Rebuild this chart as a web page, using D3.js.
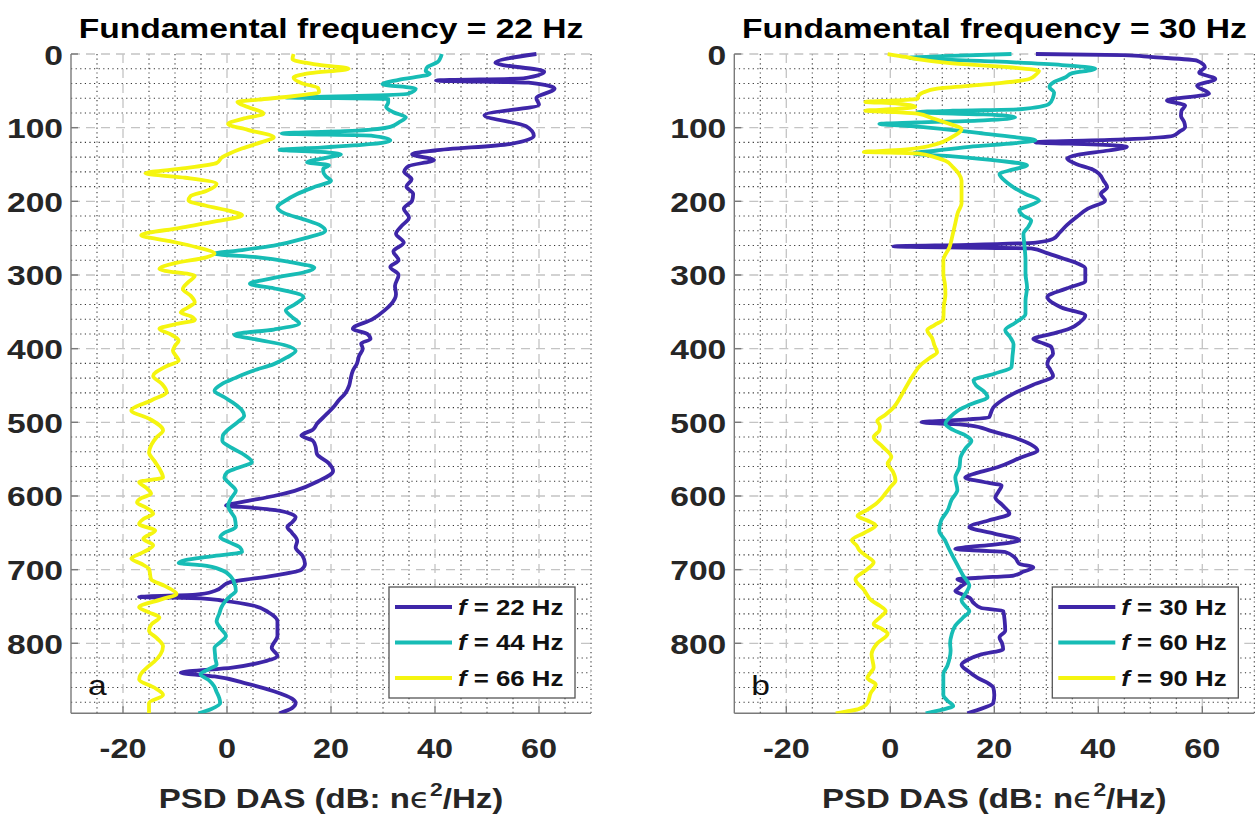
<!DOCTYPE html>
<html>
<head>
<meta charset="utf-8">
<script src="https://cdn.jsdelivr.net/npm/d3@7"></script>
<style>
  body { margin: 0; background: #fff; }
  text { font-family: "Liberation Sans", Arial, sans-serif; }
</style>
</head>
<body>
<svg id="chart" width="1256" height="816"></svg>
<script>
// depth (m) vs PSD (dB), one [depth, dB] pair per sample

// panel a — fundamental 22 Hz
const psd22 = [[0,59.5],[12,51.6],[24,61],[33,57],[36,40.2],[39,58],[47,63],[60,59.5],[69,60],[83,49.5],[98,57.5],[111,59],[122,54.6],[131,40],[136,35.6],[144,39.8],[152,35],[160,34.1],[170,35.5],[180,34.5],[190,35.8],[199,35.6],[210,34],[222,35],[234,33.5],[244,32.5],[256,34],[268,32],[280,33],[289,31.4],[300,33],[315,32.3],[326,32.5],[340,31.5],[348,30.3],[360,28],[373,24.2],[380,27],[387,27.6],[393,25.8],[400,26.1],[410,25.4],[420,25],[430,24.2],[440,23.8],[450,23.5],[461,22.7],[470,21.5],[480,20.4],[490,19],[502,17.3],[510,16.5],[518,14.3],[525,16.5],[532,17],[543,17.3],[555,19.5],[566,20.4],[580,17.5],[593,13],[600,9],[608,3],[613,-0.2],[616,5],[620,10],[629,13.2],[636,12.5],[642,11.6],[650,12.5],[661,13.5],[670,13.2],[681,14.5],[692,15],[700,14.3],[708,9],[717,0.6],[729,-2.4],[734,-6],[737,-16.9],[739,-5],[742,-0.9],[749,5.2],[758,8],[770,9.7],[790,9.7],[806,8.6],[817,9.7],[825,7],[833,1],[840,-8.9],[845,-2.4],[855,4],[865,9],[875,12.5],[881,13.2],[888,12.5],[895,10.1]];
const psd44 = [[0,41.3],[6,41],[11,40.5],[18,38.5],[23,38.2],[27,39],[35,33],[41,29.9],[47,36.3],[54,34.8],[57,25],[59,11.3],[61,31],[66,31],[72,30.6],[79,32],[86,34.4],[93,33],[99,31.4],[104,25],[108,10.5],[111,28],[117,31.4],[122,28],[127,18],[130,10.1],[133,18],[136,21.9],[141,19],[147,15.4],[151,19.6],[156,18.5],[160,18.5],[166,19],[172,20],[180,17],[190,13.5],[200,11],[208,9.7],[216,11],[225,15],[233,18],[240,18.9],[250,15],[260,9],[267,2],[271,-2.4],[276,6],[283,12.5],[290,16.8],[296,15],[304,9],[312,4.4],[318,9],[330,14.7],[340,13],[348,11.3],[357,12.5],[366,13.9],[374,9],[381,1.4],[388,6],[395,11],[403,13.2],[412,11.5],[421,9],[430,5],[440,1.5],[448,-1],[457,-2.4],[466,-0.5],[475,1.5],[483,2.8],[491,3.3],[500,2],[510,0.2],[518,-0.8],[525,-0.9],[535,1],[545,3.5],[554,4.8],[562,2],[568,0],[575,-0.5],[583,0.5],[593,1.7],[603,0.8],[613,0.2],[620,0.6],[630,1.5],[642,1.7],[650,-0.5],[656,-1.3],[663,0.5],[670,2.5],[676,2.9],[682,-3],[687,-8],[691,-9.3],[694,-5],[701,-0.9],[710,0.8],[720,1.5],[729,1.7],[735,0.8],[742,-0.2],[750,-1],[760,-1.5],[770,-2],[780,-1.2],[790,-0.2],[798,-1.2],[806,-2.4],[815,-2.3],[822,-2.2],[829,-2],[835,-3.5],[842,-5.1],[850,-3.5],[858,-2.5],[866,-2],[874,-1.5],[881,-1.3],[889,-3],[895,-5.5]];
const psd66 = [[0,12.8],[7,12.6],[14,17],[20,23.4],[26,16],[32,12.8],[40,14.5],[46,17.5],[52,17.7],[57,13],[62,6],[65,2],[72,4],[81,7],[88,3],[95,0.2],[103,4],[113,9],[120,6.5],[128,3],[135,0.5],[140,-0.9],[148,-2],[155,-8],[162,-15.7],[168,-8],[176,-2],[186,-4],[193,-7],[199,-7.4],[206,-4],[213,0.5],[219,2.9],[227,-2],[236,-9],[246,-16.5],[254,-11],[262,-6],[271,-2.4],[276,-4],[284,-10],[292,-13],[301,-6.2],[310,-7.5],[319,-8.5],[328,-7],[337,-6.2],[344,-7.5],[351,-8.9],[356,-7],[361,-6.2],[367,-10],[373,-13],[380,-11],[389,-9.3],[396,-10],[403,-10.4],[410,-9.8],[416,-9.3],[425,-12],[437,-14.2],[448,-12.5],[459,-11.6],[470,-14.5],[484,-18.4],[495,-15],[511,-12.3],[520,-13.5],[530,-14.5],[541,-15],[552,-14],[563,-13],[575,-12.3],[581,-16.9],[589,-15.5],[597,-14.6],[603,-16.5],[609,-17.3],[616,-15.5],[624,-14.2],[631,-16],[638,-16.9],[647,-13.8],[658,-16.1],[667,-14.2],[676,-16],[685,-18.4],[692,-16.5],[699,-15],[713,-14.6],[722,-12],[733,-9.7],[740,-12.5],[751,-16.9],[758,-15],[765,-13],[774,-14.5],[783,-15],[793,-13.5],[804,-12.3],[815,-12.8],[825,-14],[833,-15.4],[841,-16.5],[849,-16.9],[860,-14],[870,-12.3],[881,-15],[895,-15]];

// panel b — fundamental 30 Hz
const psd30 = [[0,28],[1.5,44.8],[4,50],[9,59],[18,60.5],[25,59.4],[34,62.5],[43,59],[54,61.3],[63,53.2],[70,56.7],[77,56],[84,55.9],[92,56.5],[99,56.7],[106,55.5],[111,54.4],[116,45],[120,27.9],[123,40],[126,45.5],[131,42],[137,36],[142,34],[150,36],[157,39],[163,40.2],[172,41],[181,41.7],[190,40.5],[199,41.3],[210,38],[221,35.9],[232,34],[243,32.5],[251,31.3],[256,28],[259,15],[261,0.6],[263,18],[264,27.1],[270,30],[277,33],[284,35.9],[291,37.5],[298,37.5],[308,37.5],[318,34],[330,30.2],[344,32.9],[355,37.5],[364,36.5],[373,34.4],[380,31],[387,27.5],[393,29.5],[398,31],[407,31.3],[414,30.5],[421,30.2],[429,30.8],[437,31.3],[449,27.5],[461,23.7],[470,21.5],[480,19.8],[488,19.3],[493,19],[496,15],[500,6],[502,11],[504,15.2],[512,19.5],[520,23.5],[530,27],[538,28.3],[548,25],[561,20.6],[569,16.5],[575,14.4],[581,18],[586,21.4],[594,20.8],[602,20.2],[612,21.5],[624,22.9],[633,19],[642,15.2],[651,20],[660,24.8],[666,20],[670,14],[672,12.5],[674,17],[676,22.1],[684,24],[692,24.8],[697,27.5],[703,25.5],[708,23.7],[711,17],[713,12.9],[718,14.5],[722,13.7],[726,13],[729,12.5],[734,14],[738,15.2],[745,16],[752,17.5],[756,21.7],[770,22],[783,22.1],[792,21],[800,21.5],[808,21.7],[815,17.5],[822,15],[829,13.7],[838,15],[847,16.8],[855,19],[860,19.8],[870,20],[881,19.8],[890,17],[895,14.8]];
const psd60 = [[0,23.3],[3,10],[5,3.7],[10,20],[15,33],[20,39.4],[26,35],[32,33.6],[38,31.5],[45,30.6],[52,31.5],[59,31.3],[68,30.5],[75,25],[77,12],[79,5.2],[82,18],[86,24],[90,18],[93,5],[95,-2.1],[98,4],[102,10.2],[108,18],[113,24],[117,27.9],[121,24],[126,15.2],[131,9],[135,4.5],[139,12],[145,21],[151,26.3],[157,23.5],[163,21],[172,22],[181,23.7],[190,26],[199,28.6],[205,27],[212,24.8],[219,25.5],[226,27.1],[235,26.5],[244,25.6],[260,25.8],[280,26],[298,26],[317,26.3],[335,26],[353,26],[365,24],[375,22.1],[384,23],[394,23.7],[410,23.5],[425,23.3],[434,20],[443,16],[450,16.5],[458,18],[466,18.7],[474,16],[484,13],[493,11.5],[502,10.6],[510,12],[518,14.5],[525,15.6],[535,14.5],[548,13.5],[561,13.3],[575,12.5],[592,12.9],[605,11.8],[620,11],[633,9.8],[647,9.4],[660,10.5],[672,11.3],[683,12.1],[695,13],[708,14],[722,15.2],[732,14.5],[742,13.7],[750,14.5],[756,15.2],[765,14],[776,12.5],[788,11.8],[800,11.5],[810,11.6],[820,11.4],[830,11],[842,10.2],[856,10.2],[870,10.2],[878,11],[885,12.1],[890,10],[895,6.8]];
const psd90 = [[0,-0.5],[4,3],[7,5.2],[12,11],[18,22.9],[23,28.6],[28,28],[34,26.7],[41,19],[47,9],[52,6.4],[56,5.5],[61,5.2],[63,1],[65,-4.8],[67,1],[72,4.8],[75,0],[77,-4.8],[79,1],[81,5.2],[87,8],[93,10.6],[102,13.7],[108,13],[113,11.8],[122,9],[129,3.7],[131,0],[133,-5.1],[134,0],[135,5.2],[140,8.5],[145,10.6],[154,12.1],[163,13.2],[172,13.7],[185,13.7],[203,13.7],[215,13],[230,12.5],[245,12],[262,11.4],[280,10.2],[298,10.2],[312,10.5],[326,10.6],[342,10.3],[360,10.2],[368,8.5],[375,7.1],[385,8],[396,8.5],[405,9],[413,7.5],[421,6],[435,4.5],[450,3.2],[465,2],[480,0.6],[490,-1],[498,-2.5],[505,-2],[511,-2.1],[520,-3.2],[533,-1.5],[547,0.2],[556,-0.5],[567,0.5],[579,1],[588,0],[597,-1],[604,-1.8],[611,-2.8],[619,-4.5],[627,-6.3],[633,-4.5],[640,-2.8],[650,-5],[660,-7.4],[667,-6.5],[674,-5.9],[682,-4.5],[690,-3.2],[700,-4.5],[713,-6.7],[728,-5],[742,-3.6],[749,-2],[756,-0.9],[765,-2],[774,-3.2],[781,-1.5],[787,-0.5],[800,-2.5],[815,-3.6],[833,-3.2],[840,-3.8],[847,-4.4],[856,-2.8],[868,-3.8],[881,-4.4],[889,-6],[895,-10.5]];

const freqsA = ["22", "44", "66"];
const freqsB = ["30", "60", "90"];
const lineColors = ["#3e26a8", "#17bcb5", "#f5f50f"];
const xTicks = [-20, 0, 20, 40, 60];
const yTicks = [0, 100, 200, 300, 400, 500, 600, 700, 800];

const SX = 1.2;          // source figure is stretched horizontally
const PLOT_W = 520;
const TOP = 54, BOTTOM = 713.3;
const LINE_W = 3.8;

const panels = [
  { left: 71,    fund: "22", letter: "a", freqs: freqsA, data: [psd22, psd44, psd66] },
  { left: 734.3, fund: "30", letter: "b", freqs: freqsB, data: [psd30, psd60, psd90] }
];

const svg = d3.select("#chart");

function addText(g, x, y, size, weight, anchor) {
  return g.append("text")
    .attr("transform", `translate(${x},${y}) scale(${SX},1)`)
    .attr("font-size", size + "px")
    .attr("font-weight", weight)
    .attr("text-anchor", anchor)
    .attr("fill", "#111");
}

panels.forEach((p, pi) => {
  const g = svg.append("g");
  const x = d3.scaleLinear().domain([-30, 70]).range([p.left, p.left + PLOT_W]);
  const y = d3.scaleLinear().domain([0, 895]).range([TOP, BOTTOM]);

  // ── minor grid (dotted) ──
  d3.range(-25, 71, 5).filter(v => v % 20 !== 0).forEach(v => {
    g.append("line")
      .attr("x1", x(v)).attr("x2", x(v)).attr("y1", TOP).attr("y2", BOTTOM)
      .attr("stroke", "#333").attr("stroke-width", 1.1)
      .attr("stroke-dasharray", "1.2,3.4");
  });
  d3.range(20, 895, 20).filter(v => v % 100 !== 0).forEach(v => {
    g.append("line")
      .attr("x1", x(-30)).attr("x2", x(70)).attr("y1", y(v)).attr("y2", y(v))
      .attr("stroke", "#333").attr("stroke-width", 1.1)
      .attr("stroke-dasharray", "1.2,3.4");
  });

  // ── major grid (dashed) ──
  xTicks.forEach(v => {
    g.append("line")
      .attr("x1", x(v)).attr("x2", x(v)).attr("y1", TOP).attr("y2", BOTTOM)
      .attr("stroke", "#c4c4c4").attr("stroke-width", 1.3)
      .attr("stroke-dasharray", "9,6");
  });
  yTicks.forEach(v => {
    g.append("line")
      .attr("x1", x(-30)).attr("x2", x(70)).attr("y1", y(v)).attr("y2", y(v))
      .attr("stroke", "#c4c4c4").attr("stroke-width", 1.3)
      .attr("stroke-dasharray", "9,6");
  });

  // ── axes ──
  g.append("line").attr("x1", x(-30)).attr("x2", x(-30)).attr("y1", TOP).attr("y2", BOTTOM)
    .attr("stroke", "#7a7a7a").attr("stroke-width", 1.4);
  g.append("line").attr("x1", x(-30)).attr("x2", x(70)).attr("y1", BOTTOM).attr("y2", BOTTOM)
    .attr("stroke", "#7a7a7a").attr("stroke-width", 1.4);
  yTicks.forEach(v => {
    g.append("line").attr("x1", x(-30)).attr("x2", x(-30) + 7).attr("y1", y(v)).attr("y2", y(v))
      .attr("stroke", "#7a7a7a").attr("stroke-width", 1.4);
    addText(g, x(-30) - 8, y(v) + 10.5, 28, "bold", "end").attr("fill", "#262626").text(v);
  });
  xTicks.forEach(v => {
    g.append("line").attr("x1", x(v)).attr("x2", x(v)).attr("y1", BOTTOM).attr("y2", BOTTOM - 7)
      .attr("stroke", "#7a7a7a").attr("stroke-width", 1.4);
    addText(g, x(v), 758, 27, "bold", "middle").attr("fill", "#262626").text(v);
  });

  // ── curves ──
  const clipId = "clip" + pi;
  svg.append("clipPath").attr("id", clipId).append("rect")
    .attr("x", x(-30)).attr("y", TOP - 2).attr("width", PLOT_W).attr("height", BOTTOM - TOP + 2);
  const line = d3.line()
    .x(d => x(d[1]))
    .y(d => y(d[0]))
    .curve(d3.curveMonotoneY);
  p.data.forEach((series, i) => {
    g.append("path")
      .datum(series)
      .attr("clip-path", `url(#${clipId})`)
      .attr("fill", "none")
      .attr("stroke", lineColors[i])
      .attr("stroke-width", LINE_W)
      .attr("stroke-linejoin", "round")
      .attr("d", line);
  });

  // ── panel letter ──
  addText(g, x(-30) + 17, 695, 28, "normal", "start").attr("fill", "#111").text(p.letter);

  // ── legend ──
  const LX = x(70) - 16 - 186, LY = 587;
  g.append("rect").attr("x", LX).attr("y", LY).attr("width", 186).attr("height", 111)
    .attr("fill", "#fff").attr("stroke", "#555").attr("stroke-width", 1.3);
  p.freqs.forEach((f, i) => {
    const ry = LY + 20 + i * 35.5;
    g.append("line").attr("x1", LX + 6).attr("x2", LX + 63).attr("y1", ry).attr("y2", ry)
      .attr("stroke", lineColors[i]).attr("stroke-width", LINE_W);
    const t = addText(g, LX + 69, ry + 7.5, 21.5, "bold", "start").attr("fill", "#111");
    t.append("tspan").attr("font-style", "italic").text("f");
    t.append("tspan").text(` = ${f} Hz`);
  });

  // ── title & x label ──
  const cx = p.left + PLOT_W / 2;
  addText(g, cx, 38, 28, "bold", "middle").attr("fill", "#000")
    .text(`Fundamental frequency = ${p.fund} Hz`);
  const xl = addText(g, cx, 808, 27.5, "bold", "middle").attr("fill", "#262626");
  xl.append("tspan").text("PSD DAS (dB: n");
  xl.append("tspan").attr("font-weight", "normal").attr("font-family", "DejaVu Sans").text("\u03F5");
  xl.append("tspan").attr("font-size", "19px").attr("dy", -12).text("2");
  xl.append("tspan").attr("dy", 12).text("/Hz)");
});
</script>
</body>
</html>
